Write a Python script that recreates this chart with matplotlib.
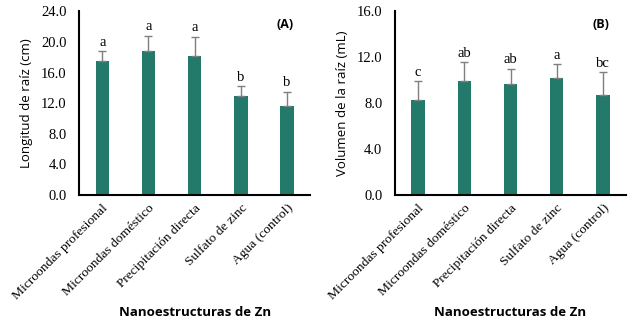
import matplotlib
matplotlib.use("Agg")
import matplotlib.pyplot as plt
import numpy as np

categories = ["Microondas profesional", "Microondas doméstico", "Precipitación directa",
              "Sulfato de zinc", "Agua (control)"]
longitud = [17.5, 18.8, 18.1, 13.0, 11.6]
longitud_err = [1.3, 2.0, 2.6, 1.2, 1.9]
longitud_letras = ["a", "a", "a", "b", "b"]
volumen = [8.3, 9.9, 9.7, 10.2, 8.7]
volumen_err = [1.6, 1.7, 1.3, 1.2, 2.0]
volumen_letras = ["c", "ab", "ab", "a", "bc"]

barColor = "#237A6B"
serif = "Liberation Serif"
sans = "Open Sans"

fig = plt.figure(figsize=(6.33, 3.22), dpi=100)
axA = fig.add_axes([0.125, 0.394, 0.365, 0.571])
axB = fig.add_axes([0.624, 0.394, 0.365, 0.571])

def panel(ax, vals, errs, letras, ymax, step, ylabel, tag, off):
    x = np.arange(len(categories))
    ax.bar(x, vals, width=0.29, color=barColor, zorder=2)
    ax.errorbar(x, vals, yerr=[np.zeros(len(vals)), errs], fmt="none",
                ecolor="#7f7f7f", elinewidth=1, capsize=3, capthick=1, zorder=3)
    for xi, v, e, l in zip(x, vals, errs, letras):
        ax.text(xi, v + e + off, l, ha="center", va="bottom", fontsize=10.5, family=serif)
    ax.set_xlim(-0.5, len(categories) - 0.5)
    ax.set_ylim(0, ymax)
    ax.set_yticks(np.arange(0, ymax + 0.01, step))
    ax.set_yticklabels(["%.1f" % t for t in np.arange(0, ymax + 0.01, step)], family=serif, fontsize=10.5)
    ax.set_xticks(x)
    ax.set_xticklabels(categories, rotation=45, ha="right", rotation_mode="anchor",
                       family=serif, fontsize=9.7)
    ax.tick_params(axis="y", length=0, pad=9)
    ax.tick_params(axis="x", length=0, pad=5)
    ax.spines["top"].set_visible(False)
    ax.spines["right"].set_visible(False)
    ax.spines["left"].set_linewidth(1.5)
    ax.spines["bottom"].set_linewidth(1.5)
    ax.set_ylabel(ylabel, family=sans, fontsize=9.5, labelpad=6)
    ax.set_xlabel("Nanoestructuras de Zn", family=sans, fontsize=9.5, fontweight="bold")
    ax.xaxis.set_label_coords(0.5, -0.605)
    ax.text(0.93, 0.93, tag, transform=ax.transAxes, ha="right", va="center",
            family=sans, fontsize=9, fontweight="bold")

panel(axA, longitud, longitud_err, longitud_letras, 24, 4, "Longitud de raíz (cm)", "(A)", 0.3)
panel(axB, volumen, volumen_err, volumen_letras, 16, 4, "Volumen de la raíz (mL)", "(B)", 0.2)

fig.savefig("out.png", dpi=100)
